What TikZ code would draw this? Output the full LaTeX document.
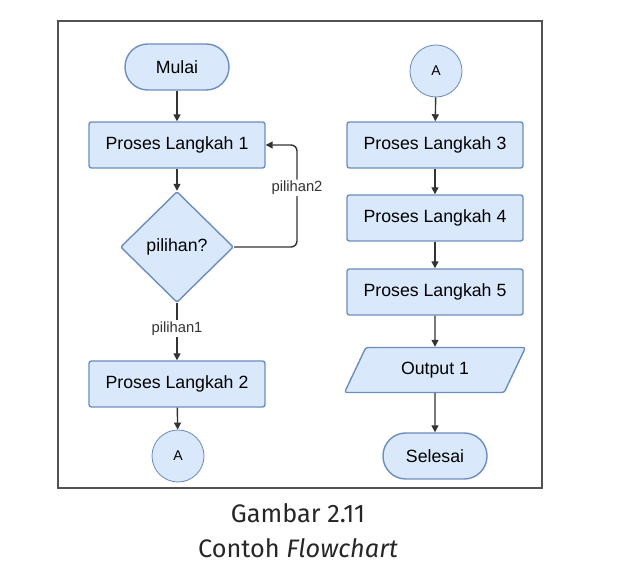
\documentclass[tikz,border=0pt]{standalone}
\usepackage{fontspec}
\setmainfont{Liberation Sans}
\newfontfamily\capfont{Fira Sans}
\usetikzlibrary{shapes.geometric,arrows.meta}
\definecolor{boxfill}{HTML}{DAE8FC}
\definecolor{boxline}{HTML}{6C8EBF}
\definecolor{linegray}{HTML}{333333}
\begin{document}
\begin{tikzpicture}[
        proc/.style={draw=boxline,fill=boxfill,rectangle,rounded corners=0.6mm,line width=1pt,minimum width=4.4cm,minimum height=1.15cm,font=\fontsize{12.6}{15}\selectfont},
        term/.style={proc,rounded corners=5.7mm,minimum width=2.6cm},
        dec/.style={proc,diamond,rounded corners=0.4mm,minimum width=2.825cm,minimum height=2.775cm,inner sep=0pt},
        io/.style={proc,trapezium,trapezium left angle=50,trapezium right angle=130,trapezium stretches body,minimum width=4.525cm,minimum height=1.125cm},
        conn/.style={proc,circle,minimum size=1.3cm,minimum width=1.3cm,inner sep=0pt,line width=0.6pt,font=\fontsize{10}{12}\selectfont},
        line/.style={draw=linegray,line width=1pt,-{Triangle[width=5pt,length=5pt]}},
        lbl/.style={fill=white,inner sep=1pt,text=linegray,font=\fontsize{10.5}{12}\selectfont},
        captxt/.style={text=black!85,font=\capfont\fontsize{18}{21}\selectfont}
      ]
      \useasboundingbox (0,0) rectangle (15.95,-14.5);
      \draw[draw=linegray!85,line width=1.1pt] (1.45,-0.525) rectangle (13.55,-12.2);
      % left column
      \node[term] (start) at (4.425,-1.675) {Mulai};
      \node[proc] (p1) at (4.425,-3.625) {Proses Langkah 1};
      \node[dec] (choice) at (4.425,-6.175) {pilihan?};
      \node[proc] (p2) at (4.425,-9.6) {Proses Langkah 2};
      \node[conn] (outA) at (4.45,-11.4) {A};
      % right column
      \node[conn] (inA) at (10.9,-1.775) {A};
      \node[proc] (p3) at (10.875,-3.625) {Proses Langkah 3};
      \node[proc] (p4) at (10.875,-5.45) {Proses Langkah 4};
      \node[proc] (p5) at (10.875,-7.3) {Proses Langkah 5};
      \node[io] (out) at (10.875,-9.25) {Output 1};
      \node[term] (stop) at (10.875,-11.4) {Selesai};
      \coordinate (bend) at (7.425,-3.625);
      \draw[line] (start) -- (p1);
      \draw[line] (p1) -- (choice);
      \draw[line] (choice) -- node[lbl,pos=0.44] {pilihan1} (p2);
      \draw[line,rounded corners=1.5mm] (choice.east) -| node[lbl,pos=0.79] {pilihan2} (bend) -- (p1.east);
      \draw[line] (p2) -- (outA);
      \draw[line] (inA) -- (p3);
      \draw[line] (p3) -- (p4);
      \draw[line] (p4) -- (p5);
      \draw[line] (p5) -- (out);
      \draw[line] (out) -- (stop);
      % caption
      \node[captxt] (cap1) at (7.45,-12.825) {Gambar 2.11};
      \node[captxt] (cap2) at (7.45,-13.7) {Contoh \textit{Flowchart}};
    \end{tikzpicture}
\end{document}
